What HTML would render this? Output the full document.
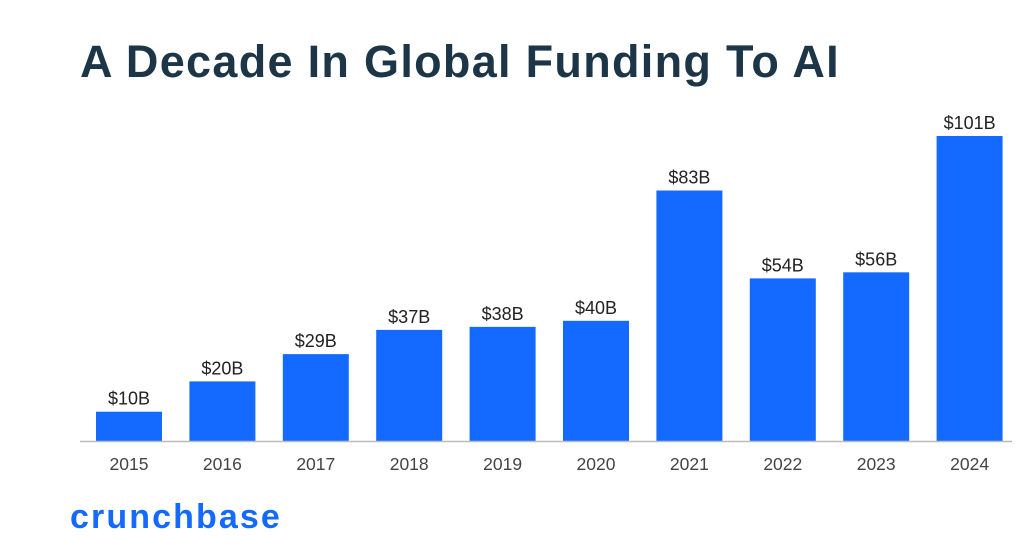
<!DOCTYPE html>
<html><head><meta charset="utf-8"><style>
html,body{margin:0;padding:0;background:#fff;}
body{width:1024px;height:557px;overflow:hidden;position:relative;font-family:"Liberation Sans",sans-serif;}
#title{position:absolute;left:80px;top:36px;font-size:45px;font-weight:bold;color:#1d3647;letter-spacing:1.3px;margin:0;}
#logo{position:absolute;left:70px;top:498px;font-size:34px;color:#146aff;font-weight:bold;letter-spacing:2.1px;}
svg{position:absolute;left:0;top:0;}
</style></head><body>
<h1 id="title">A Decade In Global Funding To AI</h1>
<div id="logo">crunchbase</div>
<svg id="chart" width="1024" height="557"></svg>
<script>
const categories=["2015","2016","2017","2018","2019","2020","2021","2022","2023","2024"];
const values=[10,20,29,37,38,40,83,54,56,101];
const valueLabels=["$10B","$20B","$29B","$37B","$38B","$40B","$83B","$54B","$56B","$101B"];
const svg=document.getElementById('chart');
const NS="http://www.w3.org/2000/svg";
const baseY=441,pxPer=3.03,firstX=129,step=93.4,barW=66;
function x(i){return firstX+i*step;}
function y(v){return baseY-v*pxPer;}
function mk(t,a){const e=document.createElementNS(NS,t);for(const k in a)e.setAttribute(k,a[k]);svg.appendChild(e);return e;}
categories.forEach((c,i)=>{
  const b=mk('rect',{x:x(i)-barW/2,y:y(values[i])+1,width:barW,height:baseY-y(values[i])-1,fill:'#146aff'});
  
  
  const vl=mk('text',{x:x(i),y:y(values[i])-6,'text-anchor':'middle','font-size':18,fill:'#222','font-family':'Liberation Sans, sans-serif'});
  vl.textContent=valueLabels[i];
  
  
  const xl=mk('text',{x:x(i),y:470,'text-anchor':'middle','font-size':17.5,fill:'#444','font-family':'Liberation Sans, sans-serif'});
  xl.textContent=c;
  
  
});
const ax=mk('line',{x1:80,x2:1012,y1:baseY+0.5,y2:baseY+0.5,stroke:'#bbb','stroke-width':1.5});


</script>
</body></html>
